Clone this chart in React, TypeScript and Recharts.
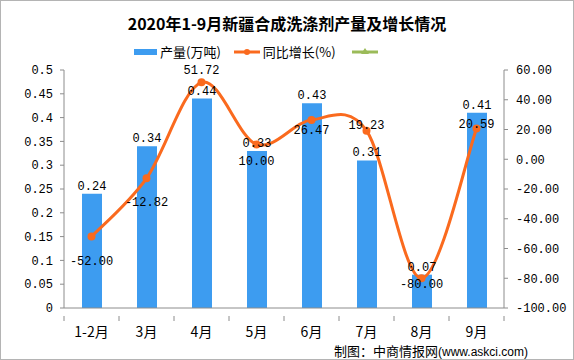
import React from "react";
import {
  ComposedChart,
  Bar,
  Line,
  XAxis,
  YAxis,
  LabelList,
} from "recharts";

const months = ["1-2月", "3月", "4月", "5月", "6月", "7月", "8月", "9月"];
const output = [0.24, 0.34, 0.44, 0.33, 0.43, 0.31, 0.07, 0.41];
const growth = [-52.0, -12.82, 51.72, 10.0, 26.47, 19.23, -80.0, 20.59];

const leftTicks = [0, 0.05, 0.1, 0.15, 0.2, 0.25, 0.3, 0.35, 0.4, 0.45, 0.5];
const rightTicks = [-100, -80, -60, -40, -20, 0, 20, 40, 60];

// vertical nudge of each growth label relative to its point (like Excel's manual placement)
const growthLabelDy = [24, 24, -12, 17, 10, -6, 6, -5];

const data = months.map((m, i) => ({ month: m, output: output[i], growth: growth[i] }));

const BLUE = "#3d9cf0";
const ORANGE = "#fa6a1e";
const GREEN = "#9bbb59";
const AXIS = "#8c8c8c";
const MONO = "'Liberation Mono', 'DejaVu Sans Mono', monospace";
const CJK = "'Noto Sans CJK SC', sans-serif";

const PLOT_LEFT = 64;
const PLOT_RIGHT = 504;
const BAND = (PLOT_RIGHT - PLOT_LEFT) / months.length;

// Excel-like smoothing (Catmull-Rom through the points)
function excelSmooth(context: any) {
  let pts: number[][] = [];
  return {
    areaStart() {},
    areaEnd() {},
    lineStart() {
      pts = [];
    },
    point(x: number, y: number) {
      pts.push([+x, +y]);
    },
    lineEnd() {
      const n = pts.length;
      if (!n) return;
      context.moveTo(pts[0][0], pts[0][1]);
      for (let i = 0; i < n - 1; i++) {
        const p0 = pts[i - 1] || pts[i];
        const p1 = pts[i];
        const p2 = pts[i + 1];
        const p3 = pts[i + 2] || p2;
        context.bezierCurveTo(
          p1[0] + (p2[0] - p0[0]) / 6,
          p1[1] + (p2[1] - p0[1]) / 6,
          p2[0] - (p3[0] - p1[0]) / 6,
          p2[1] - (p3[1] - p1[1]) / 6,
          p2[0],
          p2[1]
        );
      }
    },
  };
}

function CategoryTick(props: any) {
  const { x, y, payload, index } = props;
  const last = index === months.length - 1;
  return (
    <g>
      <line x1={x - BAND / 2} y1={y} x2={x - BAND / 2} y2={y + 5} stroke={AXIS} />
      {last && <line x1={x + BAND / 2} y1={y} x2={x + BAND / 2} y2={y + 5} stroke={AXIS} />}
      <text x={x} y={y + 21} textAnchor="middle" fontSize={14} fontFamily={CJK} fill="#000">
        {payload.value}
      </text>
    </g>
  );
}

function GrowthLabel(props: any) {
  const { x, y, value, index } = props;
  return (
    <text
      x={x}
      y={y + (growthLabelDy[index] ?? 0) + 4}
      textAnchor="middle"
      fontSize={12}
      fontFamily={MONO}
      fill="#000"
    >
      {Number(value).toFixed(2)}
    </text>
  );
}

function LegendBox() {
  return (
    <div
      style={{
        position: "absolute",
        top: 41,
        left: 133,
        display: "flex",
        alignItems: "center",
        fontFamily: CJK,
        fontSize: 13,
        color: "#000",
      }}
    >
      <span style={{ display: "flex", alignItems: "center" }}>
        <svg width={24} height={10}>
          <rect x={0} y={2} width={23} height={6} fill={BLUE} />
        </svg>
        <span style={{ marginLeft: 2 }}>产量(万吨)</span>
      </span>
      <span style={{ display: "flex", alignItems: "center", marginLeft: 13 }}>
        <svg width={26} height={10}>
          <line x1={0} y1={5} x2={26} y2={5} stroke={ORANGE} strokeWidth={3} />
          <circle cx={13} cy={5} r={3} fill={ORANGE} />
        </svg>
        <span style={{ marginLeft: 3 }}>同比增长(%)</span>
      </span>
      <span style={{ display: "flex", alignItems: "center", marginLeft: 16 }}>
        <svg width={26} height={10}>
          <line x1={0} y1={5} x2={26} y2={5} stroke={GREEN} strokeWidth={3} />
          <polygon points="13,1 17,7 9,7" fill={GREEN} />
        </svg>
      </span>
    </div>
  );
}

export default function App() {
  return (
    <div
      style={{
        position: "fixed",
        left: 0,
        top: 0,
        width: 574,
        height: 360,
        background: "#fff",
        border: "1px solid #b4b4b4",
        boxSizing: "border-box",
        overflow: "hidden",
      }}
    >
      <div
        style={{
          position: "absolute",
          top: 10,
          left: 0,
          width: "100%",
          textAlign: "center",
          fontFamily: CJK,
          fontWeight: 700,
          fontSize: 16,
          color: "#000",
        }}
      >
        2020年1-9月新疆合成洗涤剂产量及增长情况
      </div>
      <LegendBox />
      <div style={{ position: "absolute", left: -1, top: -1 }}>
        <ComposedChart
          width={574}
          height={360}
          data={data}
          margin={{ top: 70, right: 0, left: 0, bottom: 0 }}
        >
          <XAxis
            dataKey="month"
            height={52}
            axisLine={{ stroke: AXIS }}
            tickLine={false}
            tick={<CategoryTick />}
            interval={0}
          />
          <YAxis
            yAxisId="left"
            width={64}
            domain={[0, 0.5]}
            ticks={leftTicks}
            tickFormatter={(v: number) => String(v)}
            axisLine={{ stroke: AXIS }}
            tickLine={{ stroke: AXIS }}
            tickSize={4}
            tickMargin={7}
            tick={{ fontSize: 12, fontFamily: MONO, fill: "#000" }}
            interval={0}
          />
          <YAxis
            yAxisId="right"
            orientation="right"
            width={70}
            domain={[-100, 60]}
            ticks={rightTicks}
            tickFormatter={(v: number) => v.toFixed(2)}
            axisLine={{ stroke: AXIS }}
            tickLine={{ stroke: AXIS }}
            tickSize={4}
            tickMargin={8}
            tick={{ fontSize: 12, fontFamily: MONO, fill: "#000" }}
            interval={0}
          />
          <Bar yAxisId="left" dataKey="output" fill={BLUE} barSize={20} isAnimationActive={false}>
            <LabelList
              dataKey="output"
              position="top"
              offset={4}
              style={{ fontSize: 12, fontFamily: MONO, fill: "#000" }}
            />
          </Bar>
          <Line
            yAxisId="right"
            dataKey="growth"
            type={excelSmooth as any}
            stroke={ORANGE}
            strokeWidth={3}
            dot={{ r: 4, fill: ORANGE, stroke: ORANGE, strokeWidth: 0 }}
            activeDot={false}
            isAnimationActive={false}
          >
            <LabelList dataKey="growth" content={<GrowthLabel />} />
          </Line>
        </ComposedChart>
      </div>
      <div
        style={{
          position: "absolute",
          right: 45,
          top: 343,
          lineHeight: "13px",
          fontFamily: CJK,
          fontSize: 13,
          color: "#000",
          whiteSpace: "nowrap",
        }}
      >
        <span>制图：中商情报网</span>
        <span style={{ fontFamily: "'Liberation Sans', Arial, sans-serif", fontSize: 12 }}>(www.askci.com)</span>
      </div>
    </div>
  );
}
